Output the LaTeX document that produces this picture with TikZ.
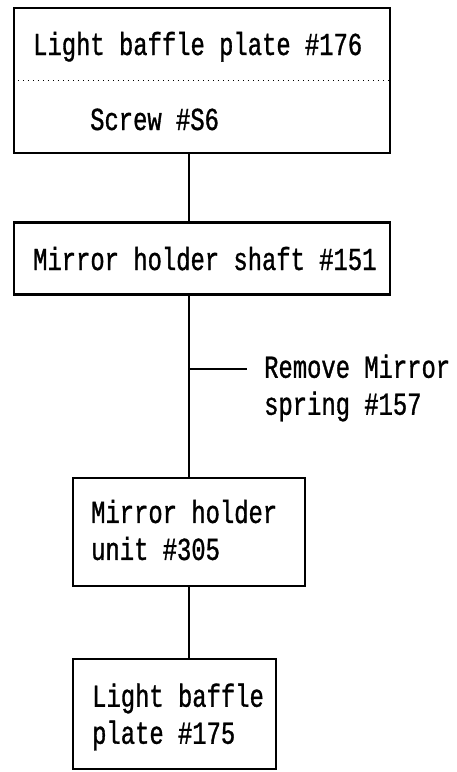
\documentclass[tikz,border=0pt]{standalone}
\usepackage{fontspec}
\newfontfamily\partfont[FakeStretch=0.745,FakeBold=1]{Liberation Mono}
\usetikzlibrary{positioning}
\newcommand{\PartSize}{\partfont\fontsize{32}{37}\selectfont}
\tikzset{partbox/.style={draw,line width=2.2pt,rectangle,inner sep=0pt}}
\tikzset{parttext/.style={font=\PartSize,inner sep=0pt,align=left}}
\tikzset{link/.style={line width=1.1pt}}

\begin{document}
\begin{tikzpicture}[x=1pt,y=-1pt]
\useasboundingbox(0,0)rectangle(456,772);
\node[partbox,minimum width=376,minimum height=145](baffle)at(202,80.5){};
\draw[line width=1pt,dash pattern=on 1pt off 4pt](baffle.west|-0,80)--(baffle.east|-0,80);
\node[parttext,anchor=base west](bafflename)at(33,55){Light baffle plate \#176};
\node[parttext,anchor=base west](screwname)at(90,130){Screw \#S6};
\node[partbox,minimum width=376,minimum height=72](shaft)at(202,258.5){};
\node[parttext,anchor=base west](shaftname)at(33,270){Mirror holder shaft \#151};
\node[partbox,minimum width=232,minimum height=108](unit)at(189,532){};
\node[parttext,anchor=west](unitname)at(91,530){Mirror holder\\unit \#305};
\node[partbox,minimum width=203,minimum height=110](plate)at(174.5,714){};
\node[parttext,anchor=west](platename)at(92,717){Light baffle\\plate \#175};
\coordinate(spine)at(189,0);\coordinate(branch)at(247,369);
\draw[link](baffle.south-|spine)--(shaft.north-|spine);\draw[link](shaft.south-|spine)--(unit.north);\draw[link](unit.south)--(plate.north-|unit);
\draw[link](branch-|spine)--(branch);
\node[parttext,anchor=west](remove)at(264,388){Remove Mirror\\spring \#157};
\end{tikzpicture}
\end{document}
